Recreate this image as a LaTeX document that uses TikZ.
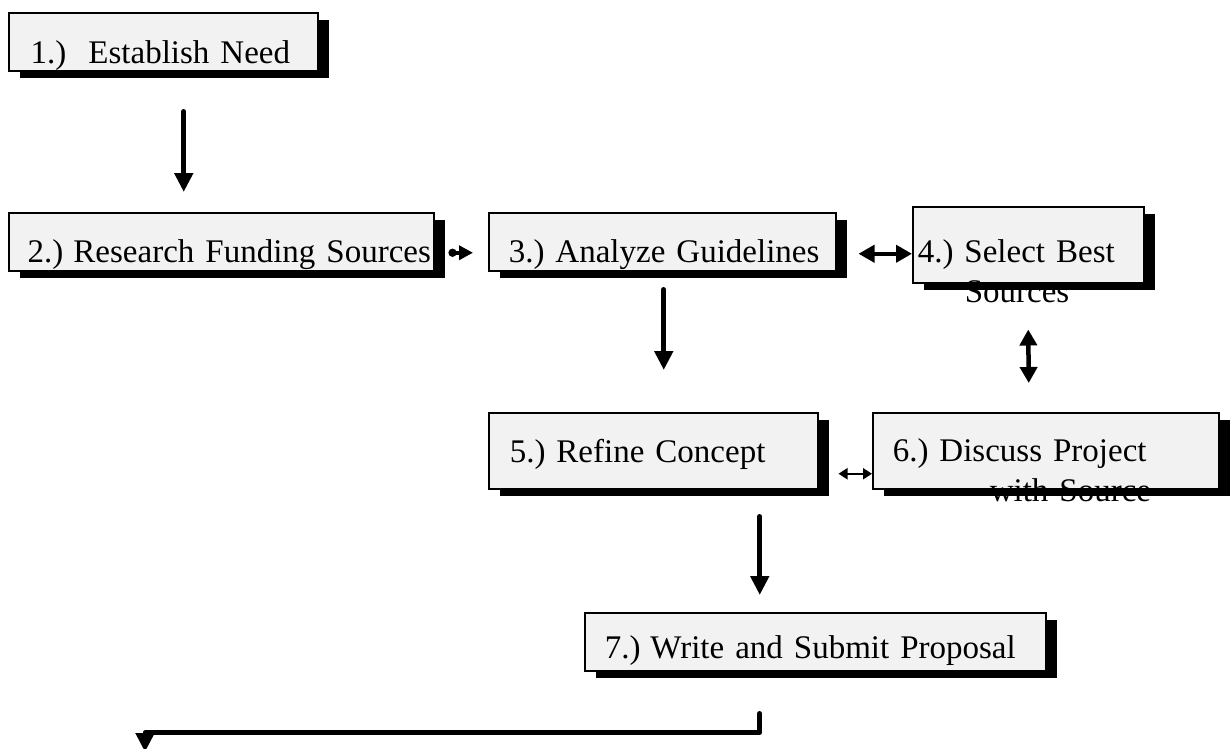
\documentclass[tikz,border=0pt]{standalone}
\usepackage{fontspec}
\setmainfont{Liberation Serif}
\usetikzlibrary{positioning, calc, arrows.meta, shadows}
\definecolor{Ink}{HTML}{000000}
\definecolor{BoxFill}{HTML}{F2F2F2}
\tikzset{
    stepbox/.style={rectangle, draw=Ink, line width=1.5pt, fill=BoxFill, text=Ink, align=left, inner sep=0pt, anchor=north west, font=\fontsize{33}{40}\selectfont\frenchspacing, drop shadow={shadow xshift=11pt, shadow yshift=-7pt, fill=Ink, opacity=1}},
    leftpad/.style={execute at begin node={\hspace*{#1}}},
    bigarrow/.style={-{Triangle[length=19pt, width=18pt]}, line width=5pt, line cap=round, color=Ink},
    smallarrow/.style={{Circle[length=8pt]}-{Triangle[length=14pt, width=14pt]}, line width=4pt, color=Ink},
    twoway/.style={{Triangle[length=16pt, width=17pt]}-{Triangle[length=16pt, width=17pt]}, line width=4.5pt, color=Ink},
    thinway/.style={{Triangle[length=9pt, width=11pt]}-{Triangle[length=9pt, width=11pt]}, line width=2pt, color=Ink},
}
\begin{document}
\begin{tikzpicture}[x=1pt, y=-1pt]
                \useasboundingbox (0,0) rectangle (1231,748);

                % Steps
                \node[stepbox, text width=309pt, text height=51pt, text depth=7pt, leftpad=22pt] (need) at (8,12) {1.)\hspace{22pt}Establish Need};
                \node[stepbox, text width=425pt, text height=50pt, text depth=8pt, leftpad=19pt] (research) at (8,212) {2.)\hspace{10pt}Research Funding Sources};
                \node[stepbox, text width=347pt, text height=50pt, text depth=8pt, leftpad=20pt] (analyze) at (488,212) {3.) Analyze Guidelines};
                \node[stepbox, text width=231pt, text height=56pt, text depth=20pt, leftpad=5pt] (select) at (912,206) {4.) Select Best\\\hspace*{52pt}Sources};
                \node[stepbox, text width=329pt, text height=50pt, text depth=26pt, leftpad=21pt] (refine) at (488,412) {5.) Refine Concept};
                \node[stepbox, text width=346pt, text height=49pt, text depth=27pt, leftpad=20pt] (discuss) at (872,412) {6.) Discuss Project\\\hspace*{117pt}with Source};
                \node[stepbox, text width=461pt, text height=46pt, text depth=12pt, leftpad=20pt] (write) at (584,612) {7.)\hspace{10pt}Write and Submit Proposal};

                % Arrows between steps
                \draw[bigarrow] ([xshift=20.5pt, yshift=-40pt]need.south) -- ([xshift=-37.5pt, yshift=20pt]research.north);
                \draw[smallarrow] ([xshift=14pt, yshift=-11pt]research.east) -- ([xshift=-15pt, yshift=-11pt]analyze.west);
                \draw[twoway] ([xshift=22pt, yshift=-12pt]analyze.east) -- ([yshift=-9pt]select.west);
                \draw[bigarrow] ([xshift=1.5pt, yshift=-18pt]analyze.south) -- ([xshift=10.5pt, yshift=42pt]refine.north);
                \draw[twoway] ([yshift=-46pt]select.south) -- ([xshift=-17pt, yshift=29pt]discuss.north);
                \draw[thinway] ([xshift=20pt, yshift=-23pt]refine.east) -- ([yshift=-23pt]discuss.west);
                \draw[bigarrow] ([xshift=106.5pt, yshift=-27pt]refine.south) -- ([xshift=-55.5pt, yshift=17pt]write.north);

                % Back to the start
                \coordinate (back) at (145,752);
                \draw[bigarrow, line join=round] ([xshift=-55.5pt, yshift=-42pt]write.south) |- ([yshift=19.5pt]back) -- (back);
\end{tikzpicture}
\end{document}
